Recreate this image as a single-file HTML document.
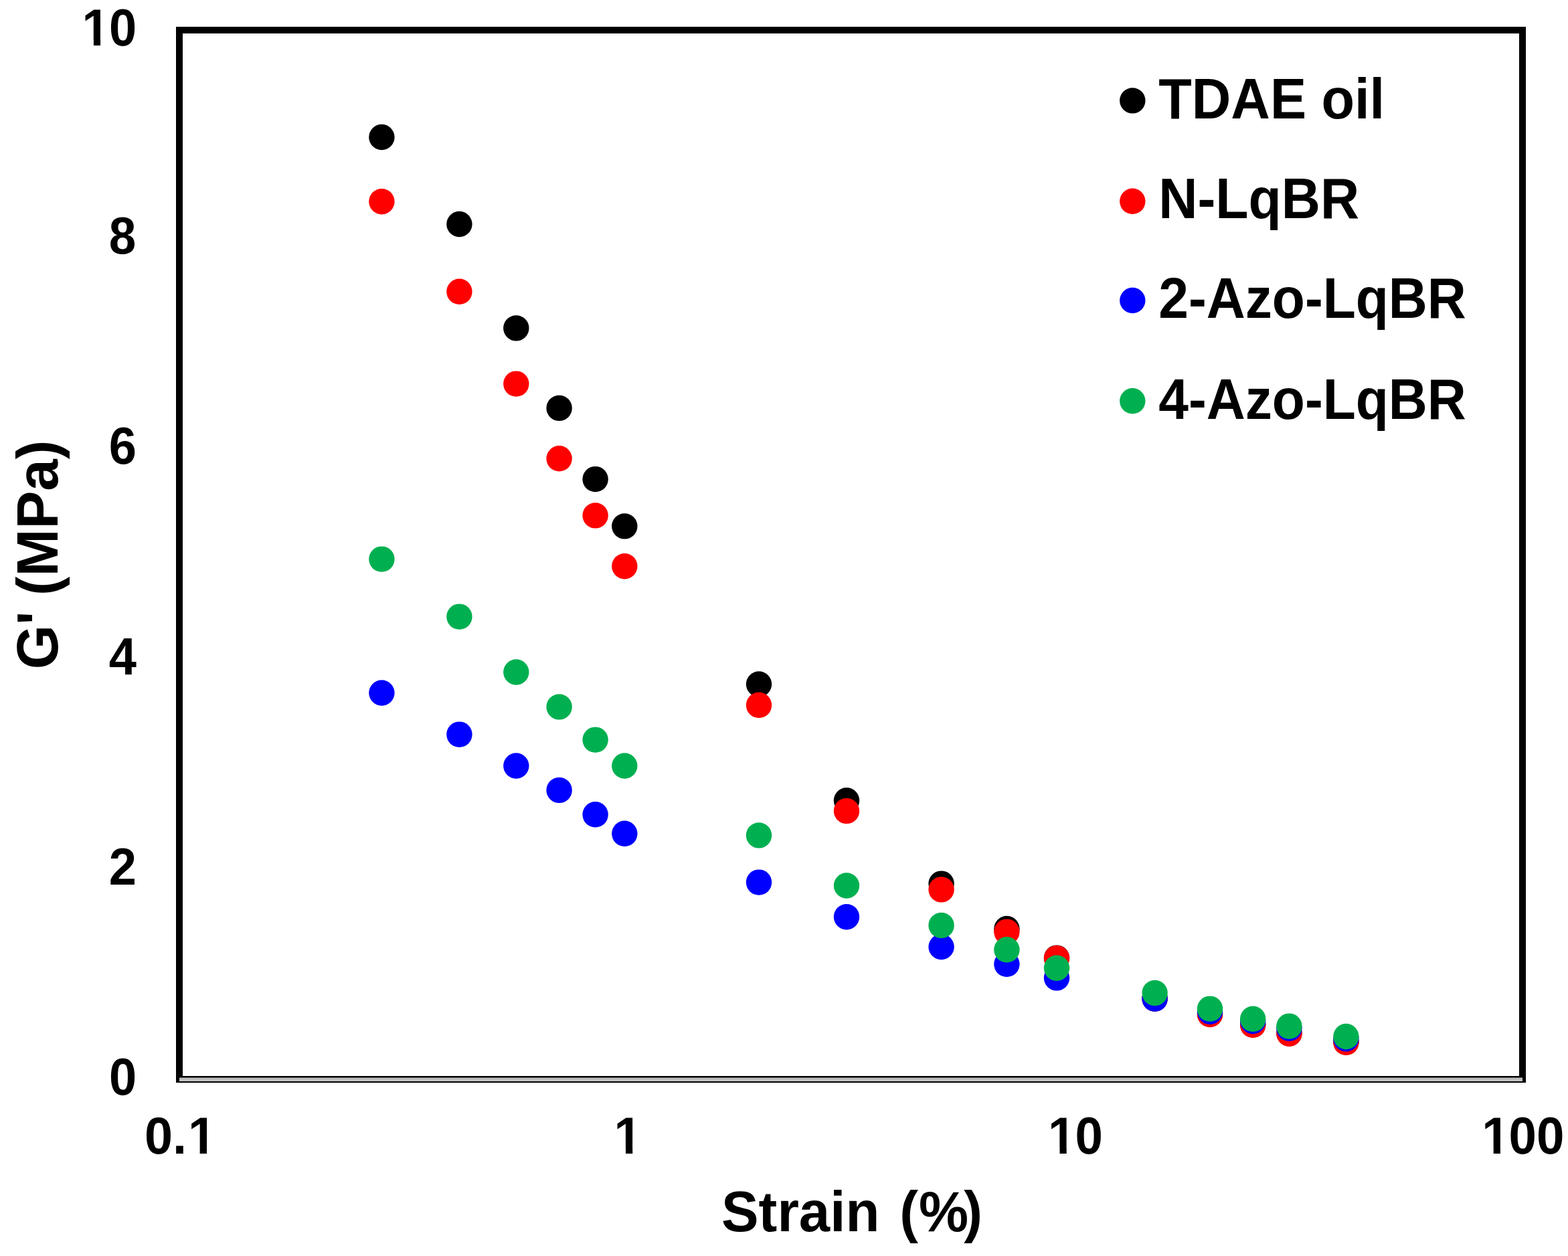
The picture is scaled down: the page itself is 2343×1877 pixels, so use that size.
<!DOCTYPE html>
<html lang="en">
<head>
<meta charset="utf-8">
<title>G' vs Strain</title>
<style>
html,body{margin:0;padding:0;background:#fff;}
body{width:2343px;height:1877px;overflow:hidden;}
svg{display:block;filter:blur(0.5px);}
text{font-family:"Liberation Sans", Arial, Helvetica, sans-serif;font-weight:700;fill:#000;font-kerning:none;}
</style>
</head>
<body>
<svg width="2343" height="1877" viewBox="0 0 2343 1877">
<rect x="0" y="0" width="2343" height="1877" fill="#ffffff"/>
<g id="frame">
<rect x="263" y="40" width="2017" height="10" fill="#000"/>
<rect x="263" y="40" width="10" height="1578" fill="#000"/>
<rect x="2270" y="40" width="10" height="1578" fill="#000"/>
<rect x="263" y="1608" width="2017" height="10" fill="#000"/>
<rect x="268" y="1610.5" width="2007" height="5.5" fill="#bfbfbf"/>
</g>
<g id="tdae" fill="#000000">
<circle cx="570.4" cy="205.0" r="19.2"/>
<circle cx="686.4" cy="335.0" r="19.2"/>
<circle cx="771.3" cy="490.4" r="19.2"/>
<circle cx="835.6" cy="609.9" r="19.2"/>
<circle cx="889.6" cy="716.1" r="19.2"/>
<circle cx="933.3" cy="786.4" r="19.2"/>
<circle cx="1134.0" cy="1022.5" r="19.2"/>
<circle cx="1265.0" cy="1196.3" r="19.2"/>
<circle cx="1406.6" cy="1320.6" r="19.2"/>
<circle cx="1504.4" cy="1388.0" r="19.2"/>
<circle cx="1579.0" cy="1431.6" r="19.2"/>
<circle cx="1725.6" cy="1492.4" r="19.2"/>
<circle cx="1808.0" cy="1515.6" r="19.2"/>
<circle cx="1872.2" cy="1531.4" r="19.2"/>
<circle cx="1926.4" cy="1544.4" r="19.2"/>
<circle cx="2011.4" cy="1557.4" r="19.2"/>
</g>
<g id="nlq" fill="#ff0000">
<circle cx="570.4" cy="301.2" r="19.2"/>
<circle cx="686.4" cy="435.8" r="19.2"/>
<circle cx="771.3" cy="573.6" r="19.2"/>
<circle cx="835.6" cy="685.3" r="19.2"/>
<circle cx="889.6" cy="770.4" r="19.2"/>
<circle cx="933.3" cy="846.2" r="19.2"/>
<circle cx="1134.0" cy="1053.8" r="19.2"/>
<circle cx="1265.0" cy="1211.9" r="19.2"/>
<circle cx="1406.6" cy="1329.4" r="19.2"/>
<circle cx="1504.4" cy="1392.6" r="19.2"/>
<circle cx="1579.0" cy="1431.9" r="19.2"/>
<circle cx="1725.6" cy="1492.4" r="19.2"/>
<circle cx="1808.0" cy="1516.0" r="19.2"/>
<circle cx="1872.2" cy="1531.8" r="19.2"/>
<circle cx="1926.4" cy="1544.7" r="19.2"/>
<circle cx="2011.4" cy="1557.8" r="19.2"/>
</g>
<g id="azo2" fill="#0000ff">
<circle cx="570.4" cy="1035.5" r="19.2"/>
<circle cx="686.4" cy="1097.6" r="19.2"/>
<circle cx="771.3" cy="1144.5" r="19.2"/>
<circle cx="835.6" cy="1180.9" r="19.2"/>
<circle cx="889.6" cy="1217.3" r="19.2"/>
<circle cx="933.3" cy="1245.8" r="19.2"/>
<circle cx="1134.0" cy="1318.6" r="19.2"/>
<circle cx="1265.0" cy="1370.2" r="19.2"/>
<circle cx="1406.6" cy="1415.0" r="19.2"/>
<circle cx="1504.4" cy="1440.8" r="19.2"/>
<circle cx="1579.0" cy="1461.4" r="19.2"/>
<circle cx="1725.6" cy="1492.6" r="19.2"/>
<circle cx="1808.0" cy="1511.7" r="19.2"/>
<circle cx="1872.2" cy="1526.0" r="19.2"/>
<circle cx="1926.4" cy="1536.8" r="19.2"/>
<circle cx="2011.4" cy="1552.3" r="19.2"/>
</g>
<g id="azo4" fill="#00b050">
<circle cx="570.4" cy="835.6" r="19.2"/>
<circle cx="686.4" cy="921.6" r="19.2"/>
<circle cx="771.3" cy="1004.5" r="19.2"/>
<circle cx="835.6" cy="1056.4" r="19.2"/>
<circle cx="889.6" cy="1105.6" r="19.2"/>
<circle cx="933.3" cy="1144.5" r="19.2"/>
<circle cx="1134.0" cy="1248.4" r="19.2"/>
<circle cx="1265.0" cy="1323.5" r="19.2"/>
<circle cx="1406.6" cy="1382.9" r="19.2"/>
<circle cx="1504.4" cy="1419.3" r="19.2"/>
<circle cx="1579.0" cy="1446.7" r="19.2"/>
<circle cx="1725.6" cy="1483.9" r="19.2"/>
<circle cx="1808.0" cy="1507.6" r="19.2"/>
<circle cx="1872.2" cy="1522.8" r="19.2"/>
<circle cx="1926.4" cy="1533.6" r="19.2"/>
<circle cx="2011.4" cy="1549.0" r="19.2"/>
</g>
<g id="legend-markers">
<circle cx="1692.3" cy="150.4" r="19.2" fill="#000000"/>
<circle cx="1692.3" cy="300.8" r="19.2" fill="#ff0000"/>
<circle cx="1692.3" cy="449.0" r="19.2" fill="#0000ff"/>
<circle cx="1692.3" cy="599.3" r="19.2" fill="#00b050"/>
</g>
<g id="labels">
<text id="y10" x="121.67" y="68.10" font-size="77.60" dx="1 -1" transform="translate(121.67 0) scale(0.9550 1) translate(-121.67 0)">10</text>
<text id="y8" x="203.40" y="379.20" font-size="77.60" text-anchor="end" transform="translate(203.40 0) scale(0.9400 1) translate(-203.40 0)">8</text>
<text id="y6" x="204.00" y="693.50" font-size="77.60" text-anchor="end" transform="translate(204.00 0) scale(0.9550 1) translate(-204.00 0)">6</text>
<text id="y4" x="204.10" y="1008.10" font-size="77.60" text-anchor="end" transform="translate(204.10 0) scale(0.9550 1) translate(-204.10 0)">4</text>
<text id="y2" x="204.00" y="1322.00" font-size="77.60" text-anchor="end" transform="translate(204.00 0) scale(0.9550 1) translate(-204.00 0)">2</text>
<text id="y0" x="204.20" y="1635.60" font-size="77.60" text-anchor="end" transform="translate(204.20 0) scale(0.9550 1) translate(-204.20 0)">0</text>
<text id="x01" x="216.91" y="1724.10" font-size="78.00" dx="-1 0 2" transform="translate(216.91 0) scale(0.9700 1) translate(-216.91 0)">0.1</text>
<text id="x1" x="938.30" y="1724.10" font-size="78.00" text-anchor="middle" transform="translate(938.30 0) scale(0.9550 1) translate(-938.30 0)">1</text>
<text id="x10" x="1564.97" y="1724.10" font-size="78.00" dx="1.2 -1.2" transform="translate(1564.97 0) scale(0.9550 1) translate(-1564.97 0)">10</text>
<text id="x100" x="2213.16" y="1724.10" font-size="78.00" dx="1.2 -1.2 0" transform="translate(2213.16 0) scale(0.9550 1) translate(-2213.16 0)">100</text>
<text id="xtitle" x="1077.42" y="1839.60" font-size="85.00" dx="0.6 0 0 0 0 0 0 7 0.8 -7" transform="translate(1077.42 0) scale(0.9810 1) translate(-1077.42 0)">Strain (%)</text>
<text id="ytitle" x="85.70" y="829.00" font-size="87.00" text-anchor="middle" transform="rotate(-90 85.70 829.00) translate(85.70 0) scale(0.9800 1) translate(-85.70 0)">G' (MPa)</text>
<text id="l1" x="1731.30" y="177.30" font-size="84.50" transform="translate(1731.30 0) scale(0.9596 1) translate(-1731.30 0)">TDAE oil</text>
<text id="l2" x="1731.30" y="325.70" font-size="84.50" transform="translate(1731.30 0) scale(0.9536 1) translate(-1731.30 0)">N-LqBR</text>
<text id="l3" x="1731.30" y="475.50" font-size="84.50" transform="translate(1731.30 0) scale(0.9506 1) translate(-1731.30 0)">2-Azo-LqBR</text>
<text id="l4" x="1731.30" y="625.70" font-size="84.50" transform="translate(1731.30 0) scale(0.9506 1) translate(-1731.30 0)">4-Azo-LqBR</text>
</g>
<g id="masks" fill="#ffffff">
<rect x="126.24" y="59.58" width="13.68" height="9.92"/>
<rect x="150.09" y="59.58" width="12.70" height="9.92"/>
<rect x="284.67" y="1715.54" width="13.96" height="9.96"/>
<rect x="309.02" y="1715.54" width="12.97" height="9.96"/>
<rect x="921.22" y="1715.54" width="13.75" height="9.96"/>
<rect x="945.19" y="1715.54" width="12.77" height="9.96"/>
<rect x="1569.76" y="1715.54" width="13.75" height="9.96"/>
<rect x="1593.72" y="1715.54" width="12.77" height="9.96"/>
<rect x="2217.94" y="1715.54" width="13.75" height="9.96"/>
<rect x="2241.91" y="1715.54" width="12.77" height="9.96"/>
</g>
</svg>
</body>
</html>
